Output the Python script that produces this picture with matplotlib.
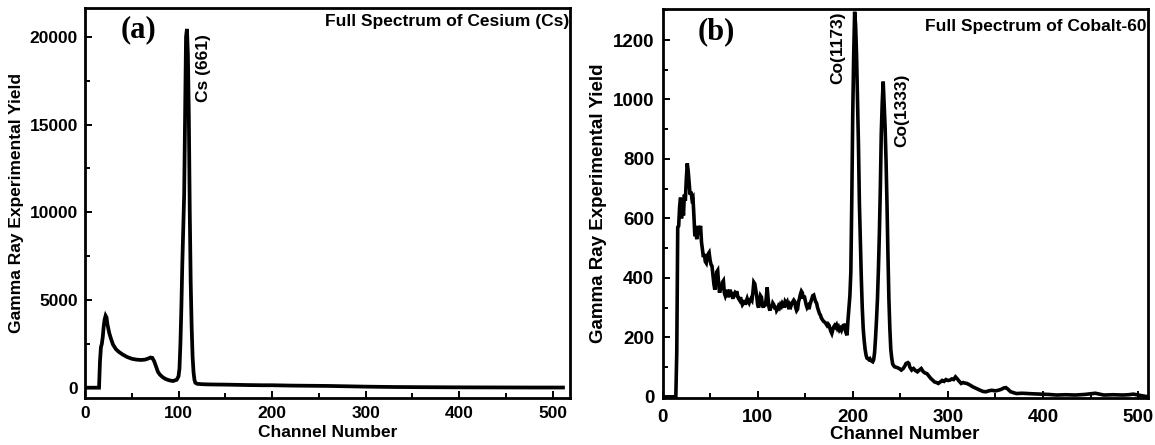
import matplotlib
matplotlib.use("Agg")
import matplotlib.pyplot as plt
from matplotlib.ticker import MultipleLocator

# ---- data ----
cs_channel = [0, 15, 16, 17, 18, 19, 20, 21, 22, 23, 24, 26, 28, 30, 33, 36, 40, 45,
              50, 55, 60, 64, 67, 70, 72, 74, 76, 78, 80, 83, 86, 90, 94, 98, 100,
              101, 102, 103, 104, 105, 106, 107, 108, 109, 110, 111, 112, 113, 114,
              115, 116, 117, 118, 120, 125, 130, 140, 150, 160, 175, 190, 200, 220,
              240, 260, 280, 300, 330, 360, 400, 440, 480, 511]
cs_yield = [0, 0, 1500, 2300, 2500, 2900, 3500, 3900, 4100, 4000, 3600, 3100, 2750,
            2450, 2200, 2050, 1900, 1750, 1650, 1600, 1580, 1600, 1650, 1720, 1700,
            1500, 1200, 900, 750, 600, 500, 420, 380, 450, 650,
            1100, 2500, 4500, 7000, 9000, 11000, 15500, 20000, 20450, 19000, 15500,
            10000, 6000, 3500, 1800, 900, 450, 280, 220, 200, 190, 180, 175, 165,
            150, 140, 140, 120, 110, 100, 80, 60, 40, 30, 20, 15, 10, 10]

# Co-60: leading zeros, channels 15..244 one by one, then a sparser tail
co_head_channel = [0, 14]
co_head_yield = [0, 0]
co_main_channel = list(range(15, 245))
co_main_yield = [
    150, 570, 575, 640, 670, 600, 665, 610, 680, 660,     # 15-24
    730, 785, 760, 720, 680, 690, 665, 670, 610, 540,     # 25-34
    570, 530, 575, 545, 560, 575, 520, 495, 470, 480,     # 35-44
    455, 450, 470, 480, 485, 460, 445, 440, 410, 380,     # 45-54
    360, 390, 420, 425, 380, 350, 370, 360, 385, 390,     # 55-64
    350, 340, 350, 360, 335, 345, 360, 350, 340, 330,     # 65-74
    345, 350, 345, 355, 340, 330, 325, 335, 320, 310,     # 75-84
    315, 325, 310, 320, 330, 320, 315, 325, 330, 325,     # 85-94
    350, 385, 380, 360, 340, 310, 300, 320, 340, 335,     # 95-104
    310, 300, 315, 305, 330, 368, 330, 300, 290, 310,     # 105-114
    300, 315, 310, 295, 305, 290, 295, 305, 300, 310,     # 115-124
    305, 315, 310, 300, 320, 315, 320, 305, 295, 310,     # 125-134
    305, 315, 320, 325, 320, 300, 290, 295, 320, 330,     # 135-144
    345, 355, 350, 330, 340, 325, 310, 300, 305, 295,     # 145-154
    310, 320, 330, 340, 342, 330, 320, 315, 300, 290,     # 155-164
    280, 275, 265, 260, 255, 252, 250, 245, 240, 245,     # 165-174
    241, 230, 220, 213, 225, 235, 240, 235, 241, 230,     # 175-184
    235, 225, 230, 224, 235, 240, 241, 225, 215, 207,     # 185-194
    258, 300, 340, 420, 662, 950, 1150, 1295, 1250, 1150,  # 195-204
    1000, 850, 650, 520, 400, 300, 230, 190, 160, 140,    # 205-214
    130, 128, 125, 128, 122, 120, 118, 125, 150, 200,     # 215-224
    260, 330, 430, 550, 700, 886, 990, 1060, 980, 908,    # 225-234
    796, 650, 480, 330, 230, 160, 130, 110, 105, 101,     # 235-244
]
co_tail_channel = [247, 249, 251, 253, 255, 256, 258, 259, 260, 262, 264, 266, 268,
                   270, 272, 274, 276, 278, 280, 282, 284, 286, 288, 290, 292, 294,
                   296, 298, 300, 302, 304, 306, 308, 310, 312, 314, 316, 318, 320,
                   323, 326, 330, 334, 337, 340, 343, 346, 350, 353, 356, 359, 361,
                   363, 366, 369, 372, 378, 384, 390, 399, 406, 414, 424, 434, 444,
                   450, 455, 458, 464, 474, 484, 490, 495, 500, 507, 511]
co_tail_yield = [98, 95, 90, 95, 105, 112, 115, 112, 100, 90, 95, 88, 84,
                 90, 95, 85, 80, 78, 70, 62, 56, 50, 48, 45, 50, 55,
                 52, 58, 55, 56, 60, 58, 67, 60, 52, 45, 48, 46, 45,
                 40, 34, 28, 22, 18, 17, 20, 22, 20, 22, 25, 30, 31,
                 26, 17, 14, 11, 12, 11, 10, 9, 8, 6, 7, 6, 8,
                 10, 12, 10, 6, 7, 6, 7, 9, 6, 2, 0]

co_channel = co_head_channel + co_main_channel + co_tail_channel
co_yield = co_head_yield + co_main_yield + co_tail_yield

SANS = "Liberation Sans"
SERIF = "Liberation Serif"

fig = plt.figure(figsize=(11.55, 4.45), dpi=100)
ax_a = fig.add_axes([0.0736, 0.1063, 0.4203, 0.876])
ax_b = fig.add_axes([0.5736, 0.1056, 0.4200, 0.874])


def style_axis(ax, xmax, ylim, ymajor, yminor, tsize, lsize, xpad, ypad, xlpad):
    ax.set_xlim(0, xmax)
    ax.set_ylim(*ylim)
    ax.xaxis.set_major_locator(MultipleLocator(100))
    ax.xaxis.set_minor_locator(MultipleLocator(50))
    ax.yaxis.set_major_locator(MultipleLocator(ymajor))
    ax.yaxis.set_minor_locator(MultipleLocator(yminor))
    ax.tick_params(which="both", direction="in", width=1.4, top=False, right=False)
    ax.tick_params(which="major", length=5)
    ax.tick_params(which="minor", length=3.5)
    ax.tick_params(axis="x", which="major", pad=xpad)
    ax.tick_params(axis="y", which="major", pad=ypad)
    for sp in ax.spines.values():
        sp.set_linewidth(2)
    for lab in ax.get_xticklabels() + ax.get_yticklabels():
        lab.set_fontfamily(SANS)
        lab.set_fontweight("bold")
        lab.set_fontsize(tsize)
    ax.set_xlabel("Channel Number", fontfamily=SANS, fontweight="bold",
                  fontsize=lsize, labelpad=xlpad)
    ax.set_ylabel("Gamma Ray Experimental Yield", fontfamily=SANS,
                  fontweight="bold", fontsize=lsize, labelpad=4)


# (a) Cesium
ax_a.plot(cs_channel, cs_yield, color="black", lw=2.7, solid_joinstyle="miter")
style_axis(ax_a, 519, (-570, 21650), 5000, 2500, 12.5, 12.5, 6, 5, 3)
ax_a.text(0.997, 0.985, "Full Spectrum of Cesium (Cs)", transform=ax_a.transAxes,
          ha="right", va="top", fontfamily=SANS, fontweight="bold", fontsize=12.5)
ax_a.text(57.5, 20400, "(a)", ha="center", va="center", fontfamily=SERIF,
          fontweight="bold", fontsize=22)
ax_a.text(126.5, 20150, "Cs (661)", rotation=90, ha="center", va="top",
          fontfamily=SANS, fontweight="bold", fontsize=12.5)

# (b) Cobalt-60
ax_b.plot(co_channel, co_yield, color="black", lw=2.6, solid_joinstyle="miter")
style_axis(ax_b, 510, (-4, 1304), 200, 100, 13.5, 13.5, 8, 6, 0)
ax_b.text(0.997, 0.975, "Full Spectrum of Cobalt-60", transform=ax_b.transAxes,
          ha="right", va="top", fontfamily=SANS, fontweight="bold", fontsize=12.5)
ax_b.text(57, 1228, "(b)", ha="center", va="center", fontfamily=SERIF,
          fontweight="bold", fontsize=22)
ax_b.text(184.5, 1296, "Co(1173)", rotation=90, ha="center", va="top",
          fontfamily=SANS, fontweight="bold", fontsize=12.5)
ax_b.text(251.5, 1086, "Co(1333)", rotation=90, ha="center", va="top",
          fontfamily=SANS, fontweight="bold", fontsize=12.5)

fig.savefig("out.png", dpi=100)
